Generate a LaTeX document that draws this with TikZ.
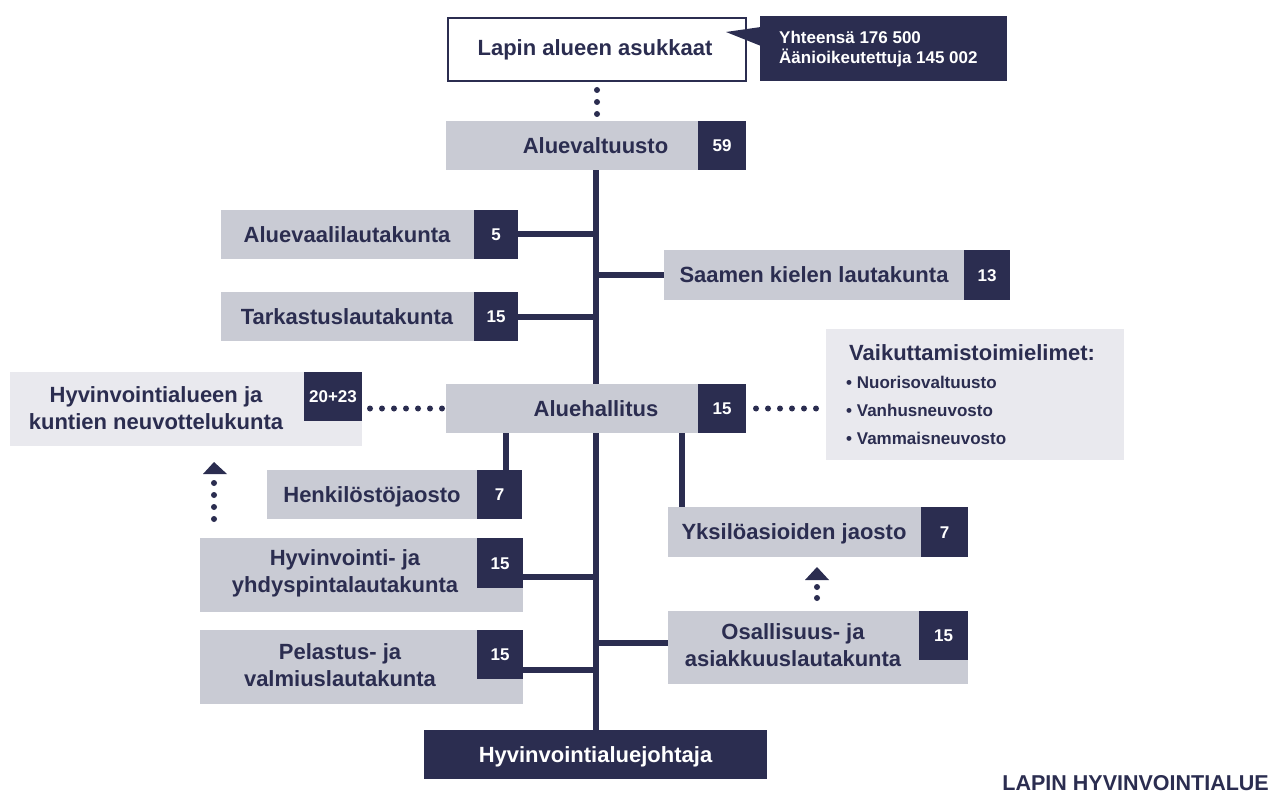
\documentclass[tikz,border=0pt]{standalone}
\usepackage{fontspec}
\setmainfont{Liberation Sans}
\usetikzlibrary{backgrounds}
\definecolor{navy}{HTML}{2B2D50}
\definecolor{boxgray}{HTML}{C9CBD4}
\definecolor{lightbox}{HTML}{E9E9EE}
\newcommand\rectnode[7]{\node[#1, anchor=north west, minimum width={#5-#3}, minimum height={#6-#4}] (#2) at (#3,#4) {#7};}
\begin{document}
\begin{tikzpicture}[x=1pt,y=-1pt,
  gbox/.style={fill=boxgray, inner sep=0pt, outer sep=0pt},
  lbox/.style={fill=lightbox, inner sep=0pt, outer sep=0pt},
  nbox/.style={fill=navy, inner sep=0pt, outer sep=0pt, text=white, font=\bfseries\fontsize{17}{20}\selectfont, text height=12.2pt, text depth=0pt},
  lbl/.style={text=navy, inner sep=0pt, font=\bfseries\fontsize{22}{27}\selectfont, text height=15.8pt, text depth=0pt},
  lbltwo/.style={text=navy, inner sep=0pt, font=\bfseries\fontsize{22}{27}\selectfont, align=center},
  bullet/.style={text=navy, inner sep=0pt, anchor=west, font=\bfseries\fontsize{17}{20}\selectfont, text height=12.2pt, text depth=0pt},
  conn/.style={draw=navy, line width=6pt},
  dotrow/.style={draw=navy, line width=6pt, line cap=round, dash pattern=on 0pt off 12pt},
  dotrowb/.style={draw=navy, line width=6pt, line cap=round, dash pattern=on 0pt off 11pt},
]
\useasboundingbox (0,0) rectangle (1281,794);

% top: residents and callout
\node[draw=navy, line width=2pt, fill=white, inner sep=0pt, anchor=north west, minimum width=298, minimum height=63] (la) at (447,17) {};
\node[lbl] (lat) at (595,48) {Lapin alueen asukkaat};
\rectnode{nbox}{co}{760}{16}{1007}{81}{}
\fill[navy] (726,32) -- (761,27) -- (761,46) -- cycle;
\node[anchor=north west, inner sep=0pt, text=white, align=left, font=\bfseries\fontsize{17}{20}\selectfont] (cot) at (779,30.5) {Yhteensä 176 500\\Äänioikeutettuja 145 002};

% council
\rectnode{gbox}{av}{446}{121}{746}{170}{}
\rectnode{nbox}{avn}{698}{121}{746}{170}{59}
\node[lbl] (avt) at (595.5,146) {Aluevaltuusto};

% committees
\rectnode{gbox}{avl}{221}{210}{518}{259}{}
\rectnode{nbox}{avln}{474}{210}{518}{259}{5}
\node[lbl] (avlt) at (347,234.5) {Aluevaalilautakunta};

\rectnode{gbox}{sk}{664}{250}{1010}{300}{}
\rectnode{nbox}{skn}{964}{250}{1010}{300}{13}
\node[lbl] (skt) at (814,275) {Saamen kielen lautakunta};

\rectnode{gbox}{tl}{221}{292}{518}{341}{}
\rectnode{nbox}{tln}{474}{292}{518}{341}{15}
\node[lbl] (tlt) at (347,316.5) {Tarkastuslautakunta};

% negotiation committee
\rectnode{lbox}{nk}{10}{372}{362}{446}{}
\rectnode{nbox}{nkn}{304}{372}{362}{421}{20+23}
\node[lbltwo] (nkt) at (156,408) {Hyvinvointialueen ja\\kuntien neuvottelukunta};

% board
\rectnode{gbox}{ah}{446}{384}{746}{433}{}
\rectnode{nbox}{ahn}{698}{384}{746}{433}{15}
\node[lbl] (aht) at (596,408.5) {Aluehallitus};

% influence bodies
\rectnode{lbox}{vt}{826}{329}{1124}{460}{}
\node[lbl, anchor=west] (vtt) at (849,353) {Vaikuttamistoimielimet:};
\node[bullet] (vt1) at (846,382) {• Nuorisovaltuusto};
\node[bullet] (vt2) at (846,410) {• Vanhusneuvosto};
\node[bullet] (vt3) at (846,438) {• Vammaisneuvosto};

% sections
\rectnode{gbox}{hk}{267}{470}{522}{519}{}
\rectnode{nbox}{hkn}{477}{470}{522}{519}{7}
\node[lbl] (hkt) at (372,494.5) {Henkilöstöjaosto};

\rectnode{gbox}{yk}{668}{507}{968}{557}{}
\rectnode{nbox}{ykn}{921}{507}{968}{557}{7}
\node[lbl] (ykt) at (794,532) {Yksilöasioiden jaosto};

% lower committees
\rectnode{gbox}{hy}{200}{538}{523}{612}{}
\rectnode{nbox}{hyn}{477}{538}{523}{588}{15}
\node[lbltwo] (hyt) at (345,573) {Hyvinvointi- ja\\yhdyspintalautakunta};

\rectnode{gbox}{pe}{200}{630}{523}{704}{}
\rectnode{nbox}{pen}{477}{630}{523}{679}{15}
\node[lbltwo] (pet) at (340,665) {Pelastus- ja\\valmiuslautakunta};

\rectnode{gbox}{os}{668}{611}{968}{684}{}
\rectnode{nbox}{osn}{919}{611}{968}{660}{15}
\node[lbltwo] (ost) at (793,645) {Osallisuus- ja\\asiakkuuslautakunta};

% director
\rectnode{nbox}{hj}{424}{730}{767}{779}{}
\node[lbl, text=white] (hjt) at (595.5,754.5) {Hyvinvointialuejohtaja};

\node[text=navy, inner sep=0pt, anchor=base east, font=\bfseries\fontsize{21.5}{26}\selectfont] (lh) at (1269,790.5) {LAPIN HYVINVOINTIALUE};

% arrows (free)
\coordinate (lu1) at (214,519);
\coordinate (lu2) at (214,482);
\coordinate (ru1) at (817,598);
\coordinate (ru2) at (817,586.5);
\fill[navy] (214,462) -- (227,474) -- (203,474) -- cycle;
\fill[navy] (817,567) -- (829,580) -- (805,580) -- cycle;
\coordinate (hkx) at (506,0);
\coordinate (ykx) at (682,0);

\begin{pgfonlayer}{background}
\fill[white] (0,0) rectangle (1281,794);
\draw[conn] (av.south) -- (av.south |- hj.north);
\draw[conn] (avl.east) -- (avl.east -| av.south);
\draw[conn] (sk.west) -- (sk.west -| av.south);
\draw[conn] (tl.east) -- (tl.east -| av.south);
\draw[conn] (ah.south -| hkx) -- (hk.north -| hkx);
\draw[conn] (ah.south -| ykx) -- (yk.north -| ykx);
\draw[conn] ([yshift=-1.5pt]hy.east) -- ([yshift=-1.5pt]hy.east -| av.south);
\draw[conn] ([yshift=-3pt]pe.east) -- ([yshift=-3pt]pe.east -| av.south);
\draw[conn] ([yshift=5pt]os.west) -- ([yshift=5pt]os.west -| av.south);
\draw[dotrow] ([yshift=-8pt]la.south) -- ([yshift=-32.5pt]la.south);
\draw[dotrow] ([xshift=-4pt]ah.west) -- ([xshift=7.5pt]nkn.east |- ah.west);
\draw[dotrow] ([xshift=10pt]ahn.east) -- ([xshift=-9.5pt]vt.west |- ahn.east);
\draw[dotrow] (lu1) -- (lu2);
\draw[dotrowb] (ru1) -- (ru2);
\end{pgfonlayer}
\end{tikzpicture}
\end{document}
